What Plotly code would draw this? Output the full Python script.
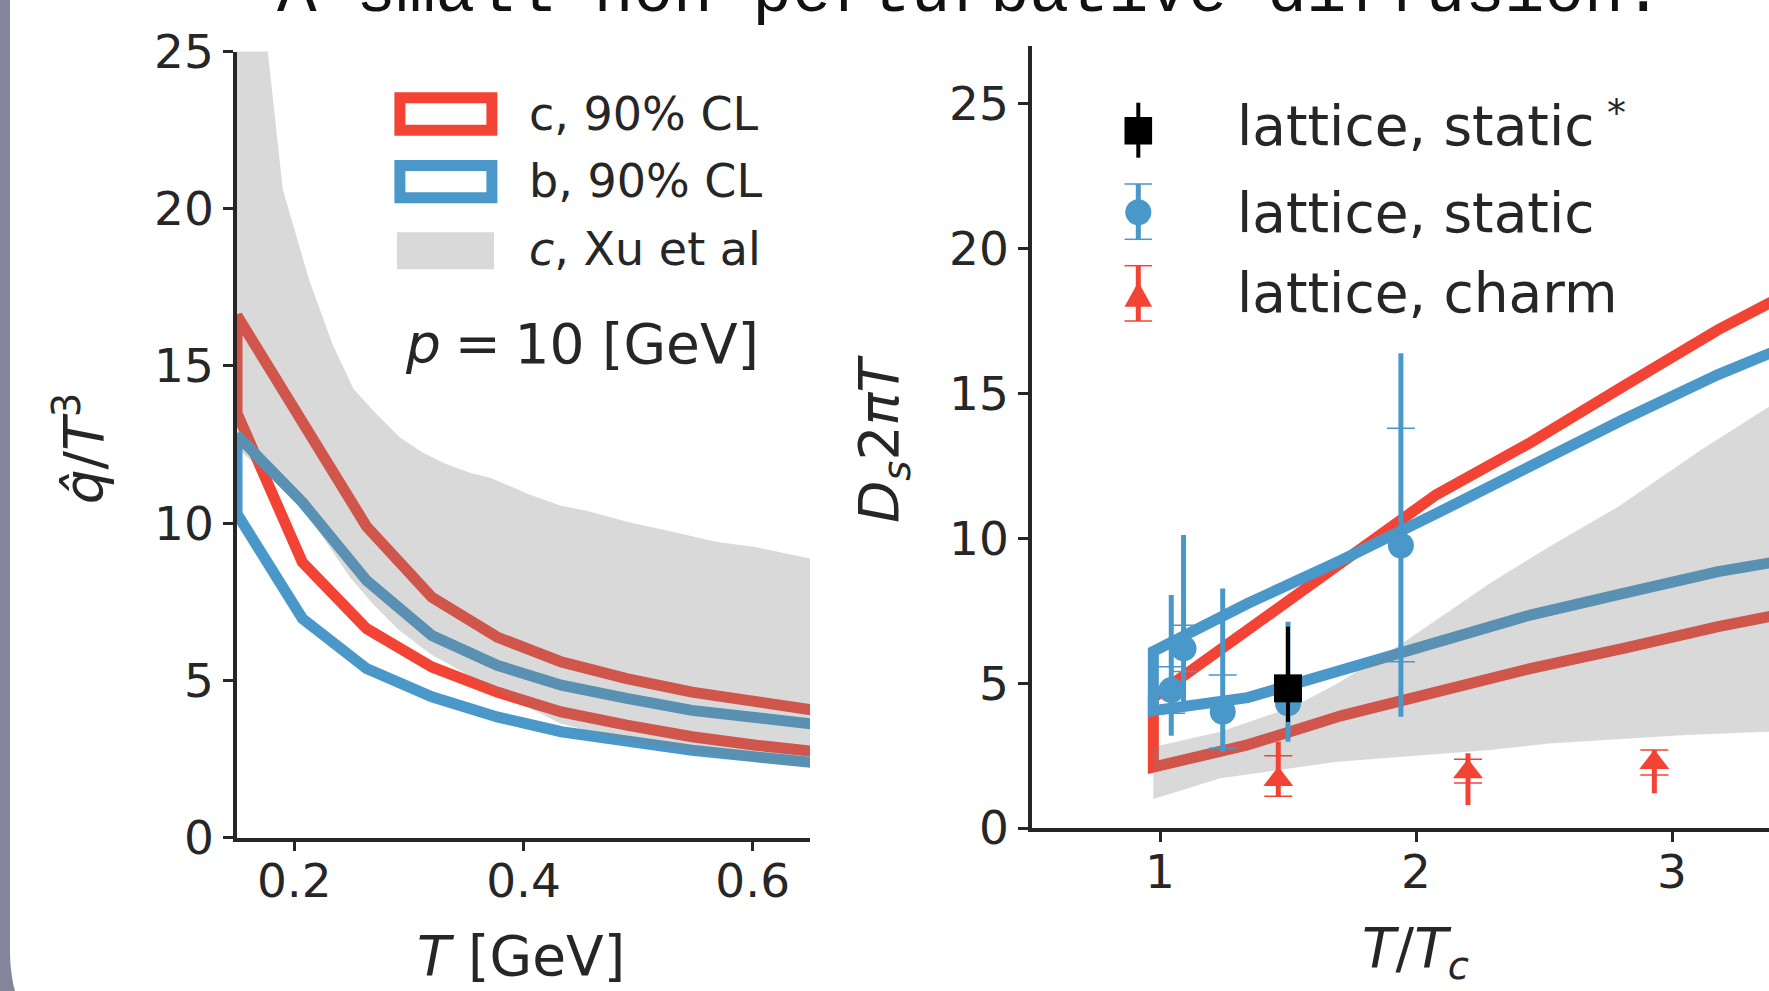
import plotly.graph_objects as go

W, H = 1769, 991

# ---------------- data: left panel  (q^/T^3 vs T [GeV]) ----------------
T_grid = [0.15, 0.207, 0.263, 0.32, 0.377, 0.433, 0.49, 0.547, 0.603, 0.66]
qhat_c_upper = [16.6, 13.2, 9.9, 7.65, 6.38, 5.59, 5.06, 4.63, 4.32, 4.02]
qhat_c_lower = [13.5, 8.76, 6.65, 5.43, 4.63, 4.00, 3.58, 3.21, 2.94, 2.72]
qhat_b_upper = [12.8, 10.67, 8.18, 6.43, 5.48, 4.85, 4.43, 4.05, 3.79, 3.58]
qhat_b_lower = [10.3, 6.97, 5.38, 4.48, 3.84, 3.37, 3.05, 2.78, 2.57, 2.36]

xu_T_upper = [0.15, 0.19, 0.2133, 0.2333, 0.2517, 0.2717, 0.2918, 0.3119, 0.332, 0.352,
              0.372, 0.404, 0.432, 0.455, 0.492, 0.519, 0.569, 0.6025, 0.66]
xu_qhat_upper = [34.0, 20.6, 17.7, 15.7, 14.27, 13.47, 12.73, 12.25, 11.89, 11.62,
                 11.43, 10.93, 10.56, 10.40, 10.03, 9.82, 9.40, 9.24, 8.8]
xu_T_lower = [0.15, 0.2083, 0.2284, 0.2484, 0.2684, 0.2918, 0.3185, 0.3753, 0.432,
              0.4888, 0.5456, 0.6024, 0.66]
xu_qhat_lower = [12.4, 10.45, 9.35, 8.29, 7.44, 6.59, 5.85, 4.69, 3.63, 3.10, 2.73, 2.41, 2.2]

# ---------------- data: right panel (Ds 2piT vs T/Tc) ----------------
TTc_grid = [0.974, 1.342, 1.71, 2.078, 2.446, 2.81, 3.18, 3.55]
Ds_c_upper = [4.5, 6.85, 9.15, 11.5, 13.3, 15.25, 17.2, 18.9]
Ds_c_lower = [2.1, 2.87, 3.88, 4.7, 5.5, 6.2, 6.95, 7.6]
Ds_b_upper = [6.1, 7.75, 9.25, 10.85, 12.45, 14.1, 15.65, 17.0]
Ds_b_lower = [4.05, 4.5, 5.45, 6.45, 7.35, 8.1, 8.85, 9.4]

xu_TTc_upper = [0.974, 1.236, 1.523, 1.695, 1.945, 2.289, 2.52, 2.79, 3.113, 3.377, 3.55]
xu_Ds_upper = [2.8, 3.32, 4.19, 5.0, 6.37, 8.45, 9.71, 11.09, 13.05, 14.54, 15.5]
xu_TTc_lower = [0.974, 1.236, 1.695, 2.289, 2.52, 3.055, 3.377, 3.55]
xu_Ds_lower = [1.0, 1.72, 2.29, 2.69, 2.92, 3.21, 3.32, 3.4]

static_T = [1.044, 1.092, 1.245, 1.50, 1.941]
static_Ds = [4.76, 6.20, 4.01, 4.30, 9.75]
static_err_hi = [3.28, 3.91, 4.26, 2.82, 6.64]
static_err_lo = [1.58, 2.10, 1.38, 1.32, 5.91]
static_cap_hi = [0.81, 0.80, 1.27, None, 4.05]
static_cap_lo = [0.80, 0.80, 1.26, None, 4.01]

star_T = [1.50]
star_Ds = [4.82]
star_err_hi = [2.13]
star_err_lo = [1.16]

charm_T = [1.462, 2.203, 2.931]
charm_Ds = [1.67, 1.94, 2.26]
charm_err_hi = [1.31, 0.64, 0.43]
charm_err_lo = [0.59, 1.15, 1.06]
charm_cap_hi = [0.82, 0.43, 0.43]
charm_cap_lo = [0.57, 0.39, 0.43]

x_ticks_left = [0.2, 0.4, 0.6]
x_ticks_right = [1, 2, 3]
y_ticks_left = [0, 5, 10, 15, 20, 25]
y_ticks_right = [0, 5, 10, 15, 20, 25]

# ---------------- style ----------------
RED = "#f34334"
BLUE = "#4a98c9"
GREYBAND = "rgba(128,128,128,0.3)"
INK = "#262626"
FONT = "DejaVu Sans"
LW = 11


def px(x):
    return x / W


def py(y):
    return 1 - y / H


def band_outline(xs, up, lo):
    # start at the right end (off-axis), go left along upper, down, right along lower
    bx = list(reversed(xs)) + list(xs) + [xs[-1]]
    by = list(reversed(up)) + list(lo) + [up[-1]]
    return bx, by


fig = go.Figure()

# ----- left panel -----
bx, by = band_outline(T_grid, qhat_c_upper, qhat_c_lower)
fig.add_trace(go.Scatter(x=bx, y=by, mode="lines", line=dict(color=RED, width=LW),
                         xaxis="x", yaxis="y", showlegend=False, hoverinfo="skip"))
bx, by = band_outline(T_grid, qhat_b_upper, qhat_b_lower)
fig.add_trace(go.Scatter(x=bx, y=by, mode="lines", line=dict(color=BLUE, width=LW),
                         xaxis="x", yaxis="y", showlegend=False, hoverinfo="skip"))
gx = xu_T_upper + list(reversed(xu_T_lower))
gy = xu_qhat_upper + list(reversed(xu_qhat_lower))
fig.add_trace(go.Scatter(x=gx, y=gy, mode="lines", fill="toself", fillcolor=GREYBAND,
                         line=dict(width=0, color="rgba(0,0,0,0)"),
                         xaxis="x", yaxis="y", showlegend=False, hoverinfo="skip"))

# ----- right panel -----
bx, by = band_outline(TTc_grid, Ds_c_upper, Ds_c_lower)
fig.add_trace(go.Scatter(x=bx, y=by, mode="lines", line=dict(color=RED, width=LW),
                         xaxis="x2", yaxis="y2", showlegend=False, hoverinfo="skip"))
bx, by = band_outline(TTc_grid, Ds_b_upper, Ds_b_lower)
fig.add_trace(go.Scatter(x=bx, y=by, mode="lines", line=dict(color=BLUE, width=LW),
                         xaxis="x2", yaxis="y2", showlegend=False, hoverinfo="skip"))
gx = xu_TTc_upper + list(reversed(xu_TTc_lower))
gy = xu_Ds_upper + list(reversed(xu_Ds_lower))
fig.add_trace(go.Scatter(x=gx, y=gy, mode="lines", fill="toself", fillcolor=GREYBAND,
                         line=dict(width=0, color="rgba(0,0,0,0)"),
                         xaxis="x2", yaxis="y2", showlegend=False, hoverinfo="skip"))

# lattice, static (blue circles)
fig.add_trace(go.Scatter(
    x=static_T, y=static_Ds, mode="markers",
    marker=dict(symbol="circle", size=26, color=BLUE, line=dict(width=0)),
    error_y=dict(type="data", symmetric=False, array=static_err_hi, arrayminus=static_err_lo,
                 color=BLUE, thickness=5, width=0),
    xaxis="x2", yaxis="y2", showlegend=False, hoverinfo="skip"))
cap_idx = [i for i, v in enumerate(static_cap_hi) if v is not None]
fig.add_trace(go.Scatter(
    x=[static_T[i] for i in cap_idx], y=[static_Ds[i] for i in cap_idx], mode="markers",
    marker=dict(size=1, color="rgba(0,0,0,0)"),
    error_y=dict(type="data", symmetric=False,
                 array=[static_cap_hi[i] for i in cap_idx],
                 arrayminus=[static_cap_lo[i] for i in cap_idx],
                 color=BLUE, thickness=1.5, width=14),
    xaxis="x2", yaxis="y2", showlegend=False, hoverinfo="skip"))

# lattice, static* (black square)
fig.add_trace(go.Scatter(
    x=star_T, y=star_Ds, mode="markers",
    marker=dict(symbol="square", size=28, color="black", line=dict(width=0)),
    error_y=dict(type="data", symmetric=False, array=star_err_hi, arrayminus=star_err_lo,
                 color="black", thickness=4, width=0),
    xaxis="x2", yaxis="y2", showlegend=False, hoverinfo="skip"))

# lattice, charm (red triangles)
fig.add_trace(go.Scatter(
    x=charm_T, y=charm_Ds, mode="markers",
    marker=dict(symbol="triangle-up", size=26, color=RED, line=dict(width=0)),
    error_y=dict(type="data", symmetric=False, array=charm_err_hi, arrayminus=charm_err_lo,
                 color=RED, thickness=5, width=0),
    xaxis="x2", yaxis="y2", showlegend=False, hoverinfo="skip"))
fig.add_trace(go.Scatter(
    x=charm_T, y=charm_Ds, mode="markers",
    marker=dict(size=1, color="rgba(0,0,0,0)"),
    error_y=dict(type="data", symmetric=False, array=charm_cap_hi, arrayminus=charm_cap_lo,
                 color=RED, thickness=1.5, width=14),
    xaxis="x2", yaxis="y2", showlegend=False, hoverinfo="skip"))

axis_common = dict(showgrid=False, zeroline=False, showline=True, linewidth=3.5,
                   linecolor=INK, ticks="outside", ticklen=10, tickwidth=3, tickcolor=INK,
                   automargin=False,
                   tickfont=dict(family=FONT, size=47, color=INK))

fig.update_layout(
    width=W, height=H,
    margin=dict(l=0, r=0, t=0, b=0, pad=0, autoexpand=False),
    paper_bgcolor="white", plot_bgcolor="white",
    showlegend=False,
    xaxis=dict(domain=[px(237), px(810)], range=[0.15, 0.65], anchor="y",
               tickvals=x_ticks_left, ticktext=["0.2", "0.4", "0.6"],
               ticklabelstandoff=-11, **axis_common),
    yaxis=dict(domain=[py(837.7), py(51.5)], range=[0, 25], anchor="x",
               tickvals=y_ticks_left, **axis_common),
    xaxis2=dict(domain=[px(1032), 1.0], range=[0.5, 0.5 + 737 / 256], anchor="y2",
                tickvals=x_ticks_right, ticklabelstandoff=-10, **axis_common),
    yaxis2=dict(domain=[py(828), py(45.8)], range=[0, 27], anchor="x2",
                tickvals=y_ticks_right, **axis_common),
)

ann = []


def text(x, y, s, size, xanchor="left", yanchor="middle", angle=0, family=FONT, color=INK):
    ann.append(dict(x=px(x), y=py(y), xref="paper", yref="paper", text=s, showarrow=False,
                    xanchor=xanchor, yanchor=yanchor, textangle=angle,
                    font=dict(family=family, size=size, color=color)))


# slide title (cut off at top)
text(275, 33.5, "A small non-perturbative diffusion.", 66, yanchor="bottom",
     family="Liberation Mono", color="#111111")

# left legend
text(527, 114.1, "c, 90% CL", 46)
text(527, 181.4, "b, 90% CL", 46)
text(527, 249.1, "<i>c</i>, Xu et al", 46)
text(761, 343.7, "<i>p</i>\u2005=\u200510 [GeV]", 55, xanchor="right")

# right legend
text(1235, 126, "lattice, static", 55)
text(1616, 113.3, "*", 38, xanchor="center")
text(1235, 212.7, "lattice, static", 55)
text(1235, 292.7, "lattice, charm", 55)

# axis titles
text(521, 956, "<i>T</i> [GeV]", 55, xanchor="center")
text(1415, 951.5, "<i>T</i>/<i>T</i><sub><i>c</i></sub>", 55, xanchor="center")
text(80.3, 448, "<i>q̂</i>/<i>T</i><sup>3</sup>", 55, xanchor="center", angle=-90)
text(883, 439, "<i>D</i><sub><i>s</i></sub>2<i>πT</i>", 55, xanchor="center", angle=-90)

fig.update_layout(annotations=ann)

shapes = []


def rect(x0, y0, x1, y1, line_color=None, line_width=0, fill=None):
    shapes.append(dict(type="rect", xref="paper", yref="paper",
                       x0=px(x0), x1=px(x1), y0=py(y1), y1=py(y0),
                       line=dict(color=line_color or "rgba(0,0,0,0)", width=line_width),
                       fillcolor=fill or "rgba(0,0,0,0)"))


def seg(x0, y0, x1, y1, color, width):
    shapes.append(dict(type="line", xref="paper", yref="paper",
                       x0=px(x0), x1=px(x1), y0=py(y0), y1=py(y1),
                       line=dict(color=color, width=width)))


def path(points, fill):
    d = "M " + " L ".join(f"{px(x):.6f},{py(y):.6f}" for x, y in points) + " Z"
    shapes.append(dict(type="path", xref="paper", yref="paper", path=d,
                       fillcolor=fill, line=dict(width=0, color="rgba(0,0,0,0)")))


# left legend symbols
rect(399.9, 97.8, 491.9, 130.2, line_color=RED, line_width=LW)
rect(399.9, 165.5, 491.9, 197.8, line_color=BLUE, line_width=LW)
rect(397, 232.3, 494, 269.3, fill="#d9d9d9")

# right legend symbols
lx = 1138.3
seg(lx, 102.7, lx, 157.7, "black", 4)
rect(lx - 13.8, 117, lx + 13.8, 144.5, fill="black")

seg(lx, 184, lx, 239.3, BLUE, 5)
seg(lx - 13.8, 184, lx + 13.8, 184, BLUE, 1.5)
seg(lx - 13.8, 239.3, lx + 13.8, 239.3, BLUE, 1.5)
shapes.append(dict(type="circle", xref="paper", yref="paper",
                   x0=px(lx - 13), x1=px(lx + 13), y0=py(225.3), y1=py(199.3),
                   fillcolor=BLUE, line=dict(width=0, color="rgba(0,0,0,0)")))

seg(lx, 265.7, lx, 321, RED, 5)
seg(lx - 13.8, 265.7, lx + 13.8, 265.7, RED, 1.5)
seg(lx - 13.8, 321, lx + 13.8, 321, RED, 1.5)
path([(lx, 281.7), (lx + 13.8, 306.7), (lx - 13.8, 306.7)], RED)

# slide frame at the left edge
path([(0, 0), (10, 0), (10, 953), (10.5, 965), (11.7, 975), (13.2, 984), (15, 991), (0, 991)],
     "#85859b")

fig.update_layout(shapes=shapes)

fig.write_html("out.html", config={"displayModeBar": False})
